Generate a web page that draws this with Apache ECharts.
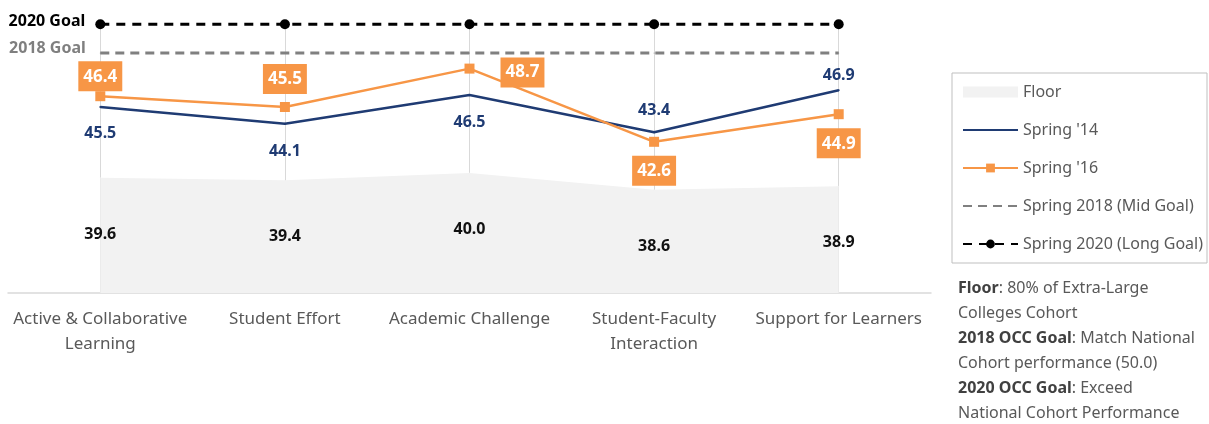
<!DOCTYPE html>
<html>
<head>
<meta charset="utf-8">
<style>
  html, body { margin: 0; padding: 0; background: #fff; }
  #chart { width: 1209px; height: 424px; }
</style>
<script src="https://cdn.jsdelivr.net/npm/echarts@6/dist/echarts.min.js"></script>
</head>
<body>
<div id="chart"></div>
<script>
// values
const categories = [
  'Active & Collaborative\nLearning',
  'Student Effort',
  'Academic Challenge',
  'Student-Faculty\nInteraction',
  'Support for Learners'
]
const floorValues = [39.6, 39.4, 40.0, 38.6, 38.9]
const spring14 = [45.5, 44.1, 46.5, 43.4, 46.9]
const spring16 = [46.4, 45.5, 48.7, 42.6, 44.9]
const goal2018 = [50.0, 50.0, 50.0, 50.0, 50.0]
const goal2020 = [52.4, 52.4, 52.4, 52.4, 52.4]

const font = '"Noto Sans", sans-serif'
const navy = '#1f3b73'
const orange = '#f79646'

// hand placed labels, like the source chart
const s14Labels = [
  { position: 'bottom', distance: 17 },
  { position: 'bottom', distance: 19 },
  { position: 'bottom', distance: 18 },
  { position: 'top', distance: 13 },
  { position: 'top', distance: 6 }
]
const s16Labels = [
  { position: 'top', distance: 0 },
  { position: 'top', distance: 8 },
  { position: 'right', distance: 26, offset: [0, 4] },
  { position: 'bottom', distance: 9 },
  { position: 'bottom', distance: 9 }
]

const chart = echarts.init(document.getElementById('chart'))

chart.setOption({
  backgroundColor: '#fff',
  animation: false,
  textStyle: { fontFamily: font },
  grid: { left: 8, right: 278, top: 23, bottom: 131 },
  legend: {
    orient: 'vertical',
    left: 952,
    top: 73,
    padding: [11, 4, 11, 10],
    borderColor: '#bfbfbf',
    borderWidth: 1,
    itemWidth: 55,
    itemHeight: 11,
    itemGap: 22,
    textStyle: { color: '#595959', fontSize: 16, fontFamily: font },
    data: [
      { name: 'Floor', icon: 'rect' },
      { name: "Spring '14", itemStyle: { opacity: 0 } },
      { name: "Spring '16" },
      { name: 'Spring 2018 (Mid Goal)', itemStyle: { opacity: 0 } },
      { name: 'Spring 2020 (Long Goal)' }
    ]
  },
  xAxis: {
    type: 'category',
    data: categories,
    boundaryGap: true,
    axisLine: { lineStyle: { color: '#d9d9d9', width: 1.5 } },
    axisTick: { show: false },
    splitLine: { show: false },
    axisLabel: {
      color: '#595959',
      fontSize: 17,
      fontFamily: font,
      margin: 14,
      lineHeight: 25,
      interval: 0
    }
  },
  yAxis: {
    type: 'value',
    min: 30,
    max: 52.5,
    show: false
  },
  graphic: [
    {
      type: 'text',
      left: 958,
      top: 276,
      style: {
        text: '{b|Floor}: 80% of Extra-Large\nColleges Cohort\n{b|2018 OCC Goal}: Match National\nCohort performance (50.0)\n{b|2020 OCC Goal}: Exceed\nNational Cohort Performance',
        font: '16px ' + font,
        fill: '#595959',
        lineHeight: 25,
        rich: {
          b: { fontWeight: 'bold', fill: '#404040', fontSize: 16, fontFamily: font, lineHeight: 25 }
        }
      }
    }
  ],
  series: [
    {
      name: 'Floor',
      type: 'line',
      z: 1,
      data: floorValues,
      symbol: 'circle',
      symbolSize: 1,
      itemStyle: { color: '#f2f2f2' },
      lineStyle: { width: 0 },
      areaStyle: { color: '#f2f2f2', opacity: 1, origin: 'start' },
      label: {
        show: true,
        position: 'bottom',
        distance: 48,
        color: '#111',
        fontSize: 16,
        fontWeight: 'bold',
        formatter: p => p.value.toFixed(1)
      },
      markLine: {
        z: 1,
        silent: true,
        symbol: ['none', 'none'],
        label: { show: false },
        emphasis: { disabled: true },
        lineStyle: { color: '#d9d9d9', type: 'solid', width: 1 },
        data: categories.map(c => ({ xAxis: c }))
      }
    },
    {
      name: "Spring '14",
      type: 'line',
      z: 3,
      data: spring14.map((v, i) => ({ value: v, label: s14Labels[i] })),
      symbol: 'circle',
      symbolSize: 2,
      itemStyle: { color: navy },
      lineStyle: { color: navy, width: 2.5 },
      label: {
        show: true,
        color: navy,
        fontSize: 16,
        fontWeight: 'bold',
        formatter: p => p.value.toFixed(1)
      }
    },
    {
      name: "Spring '16",
      type: 'line',
      z: 4,
      data: spring16.map((v, i) => ({ value: v, label: s16Labels[i] })),
      symbol: 'rect',
      symbolSize: 10,
      itemStyle: { color: orange },
      lineStyle: { color: orange, width: 2.5 },
      label: {
        show: true,
        color: '#fff',
        backgroundColor: orange,
        padding: [6, 5, 5, 5],
        fontSize: 17,
        lineHeight: 19,
        fontWeight: 'bold',
        formatter: p => p.value.toFixed(1)
      }
    },
    {
      name: 'Spring 2018 (Mid Goal)',
      type: 'line',
      z: 2,
      data: goal2018.map((v, i) => i === 0
        ? { value: v, label: { show: true, formatter: '2018 Goal', position: 'left', distance: 14, offset: [0, -5], color: '#7f7f7f', fontSize: 16, fontWeight: 'bold' } }
        : v),
      symbol: 'circle',
      symbolSize: 1,
      itemStyle: { color: '#808080' },
      lineStyle: { color: '#808080', width: 3, type: [9, 6] }
    },
    {
      name: 'Spring 2020 (Long Goal)',
      type: 'line',
      z: 2,
      data: goal2020.map((v, i) => i === 0
        ? { value: v, label: { show: true, formatter: '2020 Goal', position: 'left', distance: 10, offset: [0, -3], color: '#000', fontSize: 16, fontWeight: 'bold' } }
        : v),
      symbol: 'circle',
      symbolSize: 10,
      itemStyle: { color: '#000' },
      lineStyle: { color: '#000', width: 3, type: [9, 7] }
    }
  ]
})

window.addEventListener('resize', () => chart.resize())
</script>
</body>
</html>
